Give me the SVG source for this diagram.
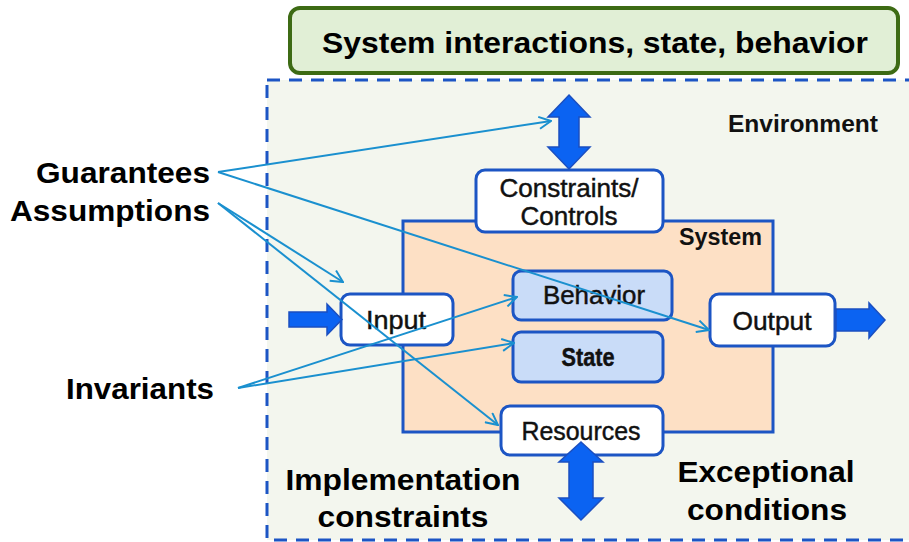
<svg xmlns="http://www.w3.org/2000/svg" width="909" height="542" viewBox="0 0 909 542">
<defs>
<style>
.box{stroke:#1c55c4;stroke-width:3}
.white{fill:#ffffff}
.lb{fill:#c9dcf8}
.lbl{font-family:"Liberation Sans",Arial,sans-serif;font-size:25px;fill:#111;stroke:#111;stroke-width:0.45;text-anchor:middle}
.big{font-family:"Liberation Sans",Arial,sans-serif;font-size:30px;font-weight:bold;fill:#000}
.med{font-family:"Liberation Sans",Arial,sans-serif;font-size:23px;font-weight:bold;fill:#111}
.thin{stroke:#1a90cf;stroke-width:2;fill:none;marker-end:url(#v)}
.fat{fill:#0b63f2;stroke:#1b4fc0;stroke-width:1.5;stroke-linejoin:miter}
</style>
<marker id="v" viewBox="0 0 14 14" refX="13" refY="7" markerWidth="14" markerHeight="14" markerUnits="userSpaceOnUse" orient="auto">
<path d="M1,1 L13,7 L1,13" fill="none" stroke="#1a90cf" stroke-width="2"/>
</marker>
</defs>
<rect x="0" y="0" width="909" height="542" fill="#ffffff"/>

<g id="title">
<rect x="290" y="8" width="608" height="65" rx="10" fill="#e1efd6" stroke="#3d6b14" stroke-width="4"/>
<text x="595" y="53" font-family="Liberation Sans,Arial,sans-serif" font-size="29" font-weight="bold" text-anchor="middle" textLength="546" lengthAdjust="spacingAndGlyphs">System interactions, state, behavior</text>
</g>

<g id="environment">
<rect x="267" y="80" width="660" height="460" fill="#f3f6ee" stroke="#1c55c4" stroke-width="3" stroke-dasharray="13 9"/>
<text class="med" x="728" y="132" textLength="150" lengthAdjust="spacingAndGlyphs">Environment</text>
</g>

<g id="system">
<rect x="403" y="221" width="370" height="211" fill="#fde0c5" class="box"/>
<text class="med" x="679" y="245" textLength="83" lengthAdjust="spacingAndGlyphs">System</text>
</g>

<g id="constraints-controls">
<rect x="476" y="170" width="187" height="62" rx="9" class="box white"/>
<text class="lbl" x="569" y="197" textLength="139" lengthAdjust="spacingAndGlyphs">Constraints/</text>
<text class="lbl" x="569" y="225" textLength="97" lengthAdjust="spacingAndGlyphs">Controls</text>
</g>

<g id="input">
<rect x="341" y="294" width="112" height="51" rx="9" class="box white"/>
<text class="lbl" x="396" y="329" textLength="60" lengthAdjust="spacingAndGlyphs">Input</text>
</g>

<g id="behavior">
<rect x="513" y="271" width="159" height="49" rx="8" class="box lb"/>
<text class="lbl" x="594" y="304" textLength="102" lengthAdjust="spacingAndGlyphs">Behavior</text>
</g>

<g id="state">
<rect x="513" y="332" width="150" height="50" rx="8" class="box lb"/>
<text class="lbl" x="588" y="366" font-weight="bold" stroke-width="0.2" textLength="53" lengthAdjust="spacingAndGlyphs">State</text>
</g>

<g id="resources">
<rect x="501" y="406" width="162" height="49" rx="9" class="box white"/>
<text class="lbl" x="581" y="440" textLength="119" lengthAdjust="spacingAndGlyphs">Resources</text>
</g>

<g id="output">
<rect x="710" y="294" width="125" height="52" rx="9" class="box white"/>
<text class="lbl" x="772" y="330" textLength="79" lengthAdjust="spacingAndGlyphs">Output</text>
</g>

<g id="labels">
<text class="big" x="210" y="183" text-anchor="end" textLength="174" lengthAdjust="spacingAndGlyphs">Guarantees</text>
<text class="big" x="210" y="221" text-anchor="end" textLength="200" lengthAdjust="spacingAndGlyphs">Assumptions</text>
<text class="big" x="214" y="399" text-anchor="end" textLength="148" lengthAdjust="spacingAndGlyphs">Invariants</text>
<text class="big" x="403" y="490" text-anchor="middle" textLength="235" lengthAdjust="spacingAndGlyphs">Implementation</text>
<text class="big" x="403" y="527" text-anchor="middle" textLength="171" lengthAdjust="spacingAndGlyphs">constraints</text>
<text class="big" x="766" y="482" text-anchor="middle" textLength="177" lengthAdjust="spacingAndGlyphs">Exceptional</text>
<text class="big" x="767" y="520" text-anchor="middle" textLength="160" lengthAdjust="spacingAndGlyphs">conditions</text>
</g>

<g id="connectors">
<polygon class="fat" points="569,95 590,117 579,117 579,147 590,147 569,169 548,147 559,147 559,117 548,117"/>
<polygon class="fat" points="581,442 603,462 593,462 593,498 603,498 581,520 559,498 569,498 569,462 559,462"/>
<polygon class="fat" points="289,312 327,312 327,304 342,319.5 327,335 327,327 289,327"/>
<polygon class="fat" points="836,309 869,309 869,303 885,320 869,338 869,331 836,331"/>
<line class="thin" x1="218" y1="172" x2="551" y2="121"/>
<line class="thin" x1="218" y1="172" x2="709" y2="330"/>
<line class="thin" x1="218" y1="203" x2="343" y2="282"/>
<line class="thin" x1="218" y1="203" x2="498" y2="425"/>
<line class="thin" x1="238" y1="388" x2="517" y2="297"/>
<line class="thin" x1="238" y1="388" x2="514" y2="343"/>
</g>
</svg>
